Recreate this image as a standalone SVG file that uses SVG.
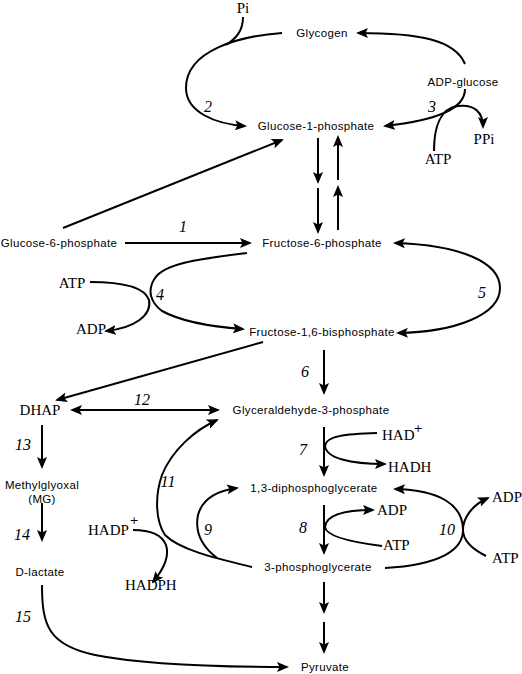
<svg xmlns="http://www.w3.org/2000/svg" width="522" height="674" viewBox="0 0 522 674">
<style>
.s{font-family:"Liberation Sans",Arial,sans-serif;font-size:11.5px;letter-spacing:0.35px;text-anchor:middle;fill:#000}
.r{font-family:"Liberation Serif","Times New Roman",serif;font-size:15px;fill:#000}
.m{text-anchor:middle}
.p{font-family:"DejaVu Sans",sans-serif;font-size:11px;fill:#000;text-anchor:middle}
.n{font-family:"Liberation Serif","Times New Roman",serif;font-style:italic;font-size:16px;text-anchor:middle;fill:#000}
.c{fill:none;stroke:#000;stroke-width:2}
.a{marker-end:url(#ah)}
.b{marker-start:url(#ah);marker-end:url(#ah)}
</style>
<defs>
<marker id="ah" markerUnits="userSpaceOnUse" markerWidth="12" markerHeight="10" viewBox="0 0 12 10" refX="10" refY="5" orient="auto-start-reverse">
<path d="M0,0 L12,5 L0,10 L2.5,5 Z" fill="#000"/>
</marker>
</defs>
<rect width="522" height="674" fill="#fff"/>
<g id="connectors">
<path class="c a" d="M282,33 C240,36 186,50 186,88 C186,112 215,124 245,126"/>
<path class="c" d="M243,17 C243,32 235,39 226,45"/>
<path class="c a" d="M465,64 C455,40 420,33 358,33"/>
<path class="c a" d="M465,89 C465,108 440,120 385,126"/>
<path class="c a" d="M434,151 C434,128 440,108 458,106 C474,104 483,112 483,127"/>
<path class="c a" d="M318,138 L318,182"/>
<path class="c a" d="M318,188 L318,232"/>
<path class="c a" d="M338,180 L338,137"/>
<path class="c a" d="M338,230 L338,187"/>
<path class="c a" d="M63,228 L282,140"/>
<path class="c a" d="M125,243 L250,243"/>
<path class="c a" d="M247,253 C200,259 165,263 155,278 C147,290 150,302 162,311 C182,322 215,327 243,329"/>
<path class="c a" d="M90,282 C125,282 145,288 149,300 C152,315 135,328 106,331"/>
<path class="c b" d="M395,243 C460,245 500,262 500,288 C500,315 455,332 398,333"/>
<path class="c a" d="M263,342 L57,400"/>
<path class="c a" d="M324,350 L324,393"/>
<path class="c b" d="M72,410 L218,410"/>
<path class="c a" d="M42,425 L42,467"/>
<path class="c a" d="M324,427 L324,475"/>
<path class="c a" d="M377,433 C345,434 326,436 325,446 C326,458 350,464 385,464"/>
<path class="c a" d="M324,505 L324,553"/>
<path class="c a" d="M382,546 C350,542 326,536 325,527 C326,515 345,510 373,510"/>
<path class="c a" d="M385,568 C440,565 463,550 463,530 C463,505 440,490 395,489"/>
<path class="c a" d="M486,556 C470,548 463,540 463,530 C463,518 472,505 488,498"/>
<path class="c a" d="M252,567 C215,558 180,550 165,535 C155,520 155,495 162,475 C172,450 195,430 217,420"/>
<path class="c a" d="M217,558 C200,545 195,530 198,515 C202,500 215,491 237,488"/>
<path class="c a" d="M133,530 C150,530 162,535 166,545 C170,557 163,570 153,582"/>
<path class="c a" d="M324,582 L324,612"/>
<path class="c a" d="M324,622 L324,652"/>
<path class="c a" d="M42,503 L42,540"/>
<path class="c a" d="M42,585 C42,625 48,645 95,655 C140,664 220,667 287,667"/>
</g>
<g id="glycogen"><text class="s" x="322" y="37">Glycogen</text></g>
<g id="adp-glucose"><text class="s" x="463" y="86">ADP-glucose</text></g>
<g id="g1p"><text class="s" x="316" y="130">Glucose-1-phosphate</text></g>
<g id="g6p"><text class="s" x="59" y="247">Glucose-6-phosphate</text></g>
<g id="f6p"><text class="s" x="322" y="247">Fructose-6-phosphate</text></g>
<g id="f16bp"><text class="s" x="322" y="336">Fructose-1,6-bisphosphate</text></g>
<g id="dhap"><text class="r m" x="40" y="415">DHAP</text></g>
<g id="g3p"><text class="s" x="311" y="414">Glyceraldehyde-3-phosphate</text></g>
<g id="dpg"><text class="s" x="314" y="492">1,3-diphosphoglycerate</text></g>
<g id="pg3"><text class="s" x="318" y="571">3-phosphoglycerate</text></g>
<g id="mg"><text class="s" x="42" y="489">Methylglyoxal</text><text class="s" x="42" y="503">(MG)</text></g>
<g id="dlactate"><text class="s" x="40" y="576">D-lactate</text></g>
<g id="pyruvate"><text class="s" x="325" y="671">Pyruvate</text></g>
<g id="cofactors">
<text class="r m" x="243" y="13">Pi</text>
<text class="r m" x="484" y="144">PPi</text>
<text class="r m" x="438" y="164">ATP</text>
<text class="r m" x="72" y="288">ATP</text>
<text class="r m" x="91" y="334">ADP</text>
<text class="r" x="382" y="440">HAD</text><text class="p" x="418" y="432">+</text>
<text class="r" x="388" y="472">HADH</text>
<text class="r" x="377" y="515">ADP</text>
<text class="r" x="383" y="550">ATP</text>
<text class="r" x="492" y="502">ADP</text>
<text class="r" x="492" y="563">ATP</text>
<text class="r" x="88" y="535">HADP</text><text class="p" x="134" y="524">+</text>
<text class="r" x="125" y="590">HADPH</text>
</g>
<g id="numbers">
<text class="n" x="208" y="112">2</text>
<text class="n" x="432" y="112">3</text>
<text class="n" x="183" y="232">1</text>
<text class="n" x="160" y="300">4</text>
<text class="n" x="482" y="298">5</text>
<text class="n" x="305" y="377">6</text>
<text class="n" x="142" y="405">12</text>
<text class="n" x="23" y="450">13</text>
<text class="n" x="303" y="455">7</text>
<text class="n" x="168" y="487">11</text>
<text class="n" x="22" y="540">14</text>
<text class="n" x="208" y="535">9</text>
<text class="n" x="303" y="533">8</text>
<text class="n" x="447" y="535">10</text>
<text class="n" x="23" y="622">15</text>
</g>
</svg>
